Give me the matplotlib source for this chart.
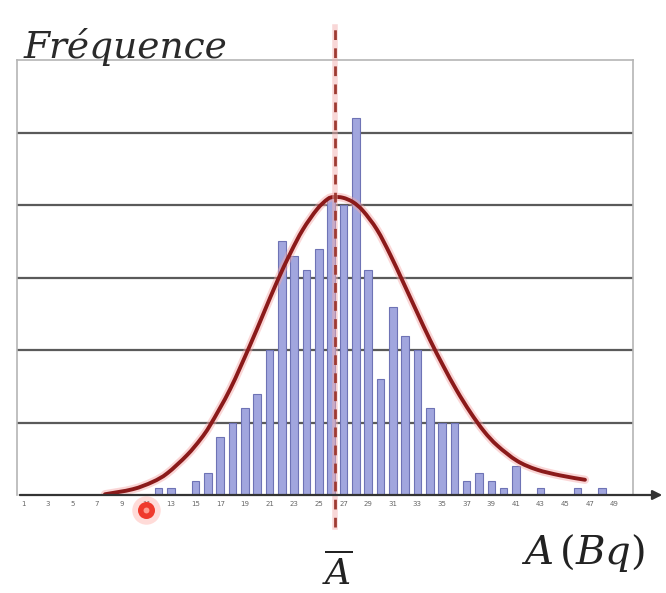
import numpy as np
import matplotlib
matplotlib.use("Agg")
import matplotlib.pyplot as plt
from matplotlib.path import Path
from matplotlib.patches import PathPatch

# Activity classes (Bq) and counts
classes = np.arange(1, 51)
freq = [0, 0, 0, 0, 0, 0, 0, 0, 0, 0,
        0, 1, 1, 0, 2, 3, 8, 10, 12, 14,
        20, 35, 33, 31, 34, 41, 40, 52, 31, 16,
        26, 22, 20, 12, 10, 10, 2, 3, 2, 1,
        4, 0, 1, 0, 0, 1, 0, 1, 0, 0]
tick_labels = [str(c) for c in classes[::2]]

# Fitted bell curve
curve_x = [7.64, 9.9, 11.5, 12.7, 14.3, 15.4, 16.2, 17.8, 19.4, 20.5,
           21.6, 22.7, 23.7, 24.85, 25.7, 26.2, 26.96, 27.77, 28.58, 29.72,
           30.78, 31.83, 32.97, 34.02, 35.1, 36.2, 37.3, 38.4, 39.5, 41.1,
           42.7, 44.6, 46.6]
curve_y = [0.1, 0.8, 1.8, 3.0, 5.5, 7.7, 9.7, 14.6, 20.6, 25.0,
           29.4, 33.4, 36.6, 39.4, 40.8, 41.1, 41.0, 40.4, 39.2, 36.6,
           33.2, 29.4, 25.2, 21.4, 17.8, 14.4, 11.4, 8.8, 6.8, 4.7,
           3.5, 2.7, 2.1]

mean_A = 26.3


def smooth_path(xs, ys):
    # Catmull-Rom through the read points, drawn as cubic Beziers
    P = np.column_stack([xs, ys])
    n = len(P)
    verts = [P[0]]
    codes = [Path.MOVETO]
    for i in range(n - 1):
        p0 = P[max(i - 1, 0)]
        p1 = P[i]
        p2 = P[i + 1]
        p3 = P[min(i + 2, n - 1)]
        verts += [p1 + (p2 - p0) / 6, p2 - (p3 - p1) / 6, p2]
        codes += [Path.CURVE4] * 3
    return Path(verts, codes)


fig = plt.figure(figsize=(6.66, 5.93), dpi=100)
ax = fig.add_axes([17 / 666, 1 - 495 / 593, 616 / 666, 435 / 593])

ax.set_xlim(0.5, 50.5)
ax.set_ylim(0, 60)

# grid
for g in range(10, 60, 10):
    ax.axhline(g, color='#5a5a5a', lw=1.6, zorder=1)

ax.bar(classes, freq, width=0.62, color='#a1a6de', edgecolor='#6e73b5',
       linewidth=0.8, zorder=2)

# curve with a soft glow
path = smooth_path(curve_x, curve_y)
ax.add_patch(PathPatch(path, fill=False, edgecolor='#f5a5a5', lw=6,
                       alpha=0.45, zorder=3, capstyle='round'))
ax.add_patch(PathPatch(path, fill=False, edgecolor='#8b1a1a', lw=2.8,
                       zorder=4, capstyle='round'))

# mean line
ax.plot([mean_A, mean_A], [-4.4, 64.5], color='#f3b0b0', lw=4, alpha=0.5,
        clip_on=False, zorder=4)
ax.plot([mean_A, mean_A], [-4.4, 64.5], color='#9e3a32', lw=2,
        dashes=(3.5, 3), clip_on=False, zorder=5)

for side in ['top', 'right', 'left']:
    ax.spines[side].set_color('#b5b5b5')
    ax.spines[side].set_linewidth(1.2)
ax.spines['bottom'].set_visible(False)

ax.set_yticks([])
ax.set_xticks(classes[::2])
ax.set_xticklabels(tick_labels, fontsize=5, color='#666666')
ax.tick_params(axis='x', length=0, pad=4)

# x axis with arrow
ax.annotate('', xy=(1.052, 0), xytext=(0, 0), xycoords='axes fraction',
            arrowprops=dict(arrowstyle='-|>', color='#333333', lw=1.6,
                            mutation_scale=14), zorder=6)

# red highlight dot
ax.scatter([11], [-2.1], s=420, color='#ff8a80', alpha=0.3, clip_on=False,
           zorder=6, linewidths=0)
ax.scatter([11], [-2.1], s=150, color='#ef3a2c', clip_on=False, zorder=7,
           linewidths=0)
ax.scatter([11], [-2.1], s=18, color='#ff9c8f', clip_on=False, zorder=8,
           linewidths=0)

plt.rcParams['mathtext.fontset'] = 'dejavuserif'
fig.text(24 / 666, 1 - 58 / 593, 'Fréquence', fontsize=27, style='italic',
         family='DejaVu Serif', color='#2a2a2a', va='baseline', ha='left')
fig.text(521 / 666, 1 - 564 / 593, r'$A\,(Bq)$', fontsize=29,
         color='#222222', va='baseline', ha='left')
fig.text(337 / 666, 1 - 585 / 593, r'$\overline{A}$', fontsize=26,
         color='#222222', va='baseline', ha='center')

fig.savefig('out.png', dpi=100)
